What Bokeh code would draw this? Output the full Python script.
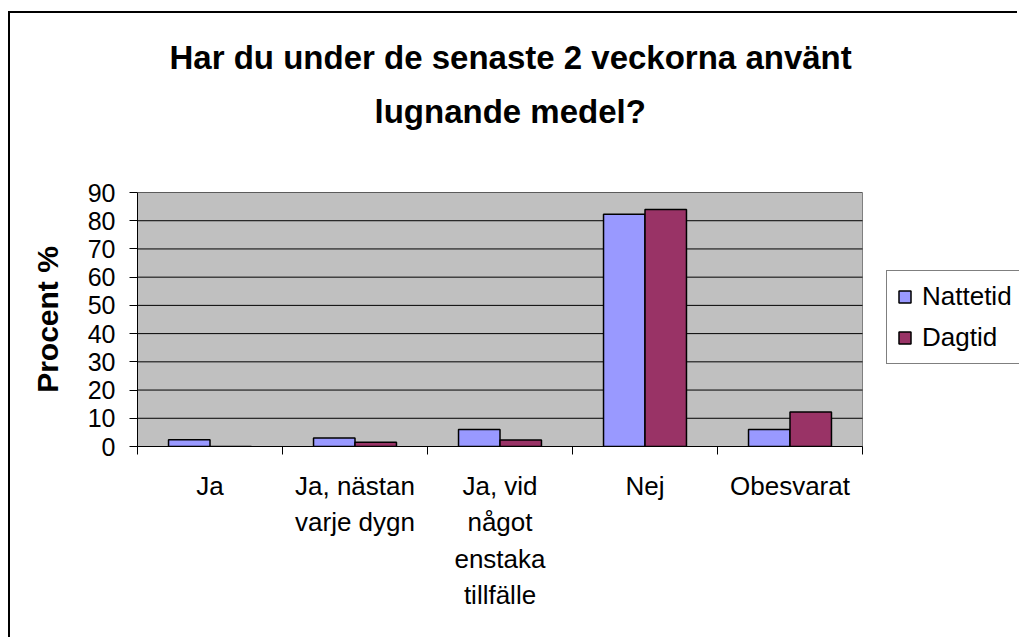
from bokeh.plotting import figure
from bokeh.models import FixedTicker, Legend, LegendItem, Range1d, Title
from bokeh.embed import file_html
from bokeh.resources import INLINE

categories = ["Ja", "Ja, nästan\nvarje dygn", "Ja, vid\nnågot\nenstaka\ntillfälle", "Nej", "Obesvarat"]
series_names = ["Nattetid", "Dagtid"]
nattetid = [2.4, 3.0, 6.0, 82.3, 6.0]
dagtid = [0.0, 1.5, 2.3, 84.0, 12.2]
y_ticks = [0, 10, 20, 30, 40, 50, 60, 70, 80, 90]
title_lines = ["Har du under de senaste 2 veckorna använt", "lugnande medel?"]
y_label = "Procent %"

FONT = "Liberation Sans"
n = len(categories)
y_max = y_ticks[-1]
centers = [i + 0.5 for i in range(n)]
bar_w = 0.286

# layout (pixels): canvas starts at (10, 13) after the chart border
W, H = 1009, 626
left_b, top_b, bottom_b = 127, 179, 193
area_px = 725
frame_px = W - left_b
x_end = n * frame_px / area_px

p = figure(width=W, height=H, output_backend="svg", toolbar_location=None,
           x_range=Range1d(0, x_end), y_range=Range1d(0, y_max),
           min_border_left=left_b, min_border_right=0, min_border_top=top_b, min_border_bottom=bottom_b)
p.styles = {"margin-left": "8px", "margin-top": "11px",
            "border-left": "2px solid black", "border-top": "2px solid black"}
p.background_fill_color = "white"
p.border_fill_color = "white"
p.outline_line_color = None
p.title.text = ""

title_style = dict(text_font=FONT, text_font_size="33px", text_font_style="bold", text_color="black")
spacer = Title(text=" ", align="left", offset=0, standoff=14, **title_style)
t2 = Title(text=title_lines[1], align="left", offset=237, standoff=20, **title_style)
t1 = Title(text=title_lines[0], align="left", offset=32, standoff=10, **title_style)
p.add_layout(spacer, "above")
p.add_layout(t2, "above")
p.add_layout(t1, "above")

# plot area and gridlines
p.quad(left=[0], right=[n], bottom=[0], top=[y_max], fill_color="#C0C0C0", line_color="#808080", line_width=1)
p.segment(x0=[0] * len(y_ticks), x1=[n] * len(y_ticks), y0=y_ticks, y1=y_ticks, line_color="black", line_width=1)

r1 = p.vbar(x=[c - bar_w / 2 for c in centers], top=nattetid, width=bar_w, bottom=0,
            fill_color="#9999FF", line_color="black", line_width=1.5)
r2 = p.vbar(x=[c + bar_w / 2 for c in centers], top=dagtid, width=bar_w, bottom=0,
            fill_color="#993366", line_color="black", line_width=1.5)

# x axis
p.xaxis.bounds = (0, n)
p.xaxis.ticker = FixedTicker(ticks=centers, minor_ticks=list(range(n + 1)))
p.xaxis.major_label_overrides = {c: lab for c, lab in zip(centers, categories)}
p.xaxis.major_tick_out = 0
p.xaxis.major_tick_in = 0
p.xaxis.minor_tick_out = 8
p.xaxis.minor_tick_in = 0
p.xaxis.minor_tick_line_color = "black"
p.xaxis.axis_line_color = "black"
p.xaxis.major_label_text_font = FONT
p.xaxis.major_label_text_font_size = "26px"
p.xaxis.major_label_text_color = "black"
p.xaxis.major_label_text_line_height = 1.22
p.xaxis.major_label_standoff = 16
p.xaxis.major_label_orientation = "horizontal"

# y axis
p.yaxis.ticker = FixedTicker(ticks=y_ticks, minor_ticks=[])
p.yaxis.major_tick_out = 8
p.yaxis.major_tick_in = 0
p.yaxis.major_tick_line_color = "black"
p.yaxis.axis_line_color = "black"
p.yaxis.major_label_text_font = FONT
p.yaxis.major_label_text_font_size = "25px"
p.yaxis.major_label_text_color = "black"
p.yaxis.major_label_standoff = 14
p.yaxis.axis_label = y_label
p.yaxis.axis_label_text_font = FONT
p.yaxis.axis_label_text_font_size = "30px"
p.yaxis.axis_label_text_font_style = "bold"
p.yaxis.axis_label_text_color = "black"
p.yaxis.axis_label_standoff = 21

p.xgrid.visible = False
p.ygrid.visible = False

legend = Legend(items=[LegendItem(label=series_names[0], renderers=[r1]),
                       LegendItem(label=series_names[1], renderers=[r2])],
                location=(area_px + 24, 82), orientation="vertical",
                border_line_color="black", border_line_width=1,
                background_fill_color="white", background_fill_alpha=1,
                label_text_font=FONT, label_text_font_size="26px", label_text_color="black",
                glyph_width=15, glyph_height=15, label_standoff=10,
                padding=10, spacing=10, margin=0)
p.add_layout(legend, "center")

open("out.html", "w").write(file_html(p, INLINE))
